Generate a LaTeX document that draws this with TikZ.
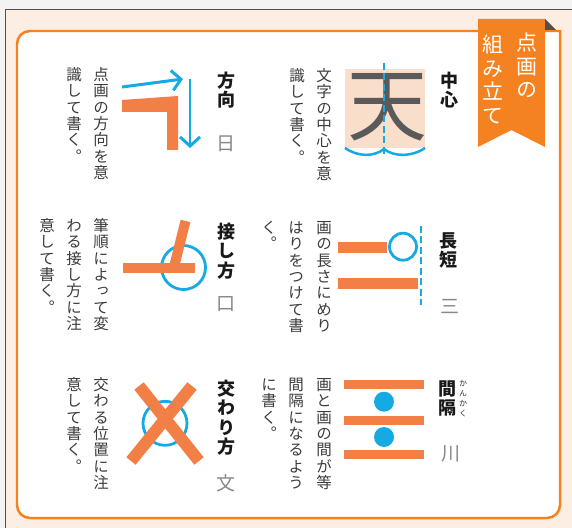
\documentclass[tikz,border=0pt]{standalone}
\usepackage{fontspec}
\usetikzlibrary{arrows.meta}
\newfontfamily\jp[RawFeature=+vert]{Noto Sans CJK JP}
\newfontfamily\jph{Noto Sans CJK JP}
\definecolor{bgbeige}{RGB}{252,238,226}
\definecolor{outgray}{RGB}{243,243,243}
\definecolor{frameor}{RGB}{245,130,32}
\definecolor{baror}{RGB}{242,128,70}
\definecolor{sky}{RGB}{22,170,226}
\definecolor{peach}{RGB}{250,222,204}
\definecolor{txt}{RGB}{60,60,60}
\definecolor{samplec}{RGB}{135,135,135}
\definecolor{fold}{RGB}{80,80,80}
\definecolor{kanji}{RGB}{90,90,90}
\ExplSyntaxOn
\dim_new:N \l__vt_pitch_dim
\NewDocumentCommand \vt { m m }
  {
    \dim_set:Nn \l__vt_pitch_dim {#1}
    \vbox:n
      {
        \offinterlineskip
        \tl_map_inline:nn {#2}
          {
            \hbox_to_wd:nn {1em}
              {
                \hss
                \vbox_to_ht:nn {\l__vt_pitch_dim}
                  { \vss \hbox:n { \vrule height .88em depth .12em width 0pt \relax ##1 } \vss }
                \hss
              }
          }
      }
  }
\ExplSyntaxOff
\newcommand\dtx[1]{\vt{16.4bp}{#1}}
\newcommand\ttl[1]{\vt{19.5bp}{#1}}
\newcommand\stx[1]{\vt{20bp}{#1}}
\newcommand\rtx[1]{\vt{23.5bp}{#1}}
\newcommand\rux[1]{\vt{10bp}{#1}}
\begin{document}
\begin{tikzpicture}[x=1bp,y=-1bp,
  desc/.style={anchor=north, inner sep=0pt, text=txt, font=\jp\fontsize{15.5bp}{16bp}\selectfont},
  titlet/.style={anchor=north, inner sep=0pt, text=black!90, font=\jp\bfseries\fontsize{18bp}{19bp}\selectfont},
  samplet/.style={anchor=center, inner sep=0pt, text=samplec, font=\jp\fontsize{19bp}{20bp}\selectfont},
  rubyt/.style={anchor=north, inner sep=0pt, text=black!80, font=\jp\fontsize{8bp}{9bp}\selectfont},
  ribbont/.style={anchor=north, inner sep=0pt, text=white, font=\jp\fontsize{21bp}{22bp}\selectfont},
  bar/.style={fill=baror},
  ring/.style={draw=sky, line width=2.8},
  guide/.style={draw=sky, line width=2.5, dash pattern=on 7 off 3.5},
  arr/.style={draw=sky, line width=3, -{Straight Barb[length=9bp,width=20bp]}}
]
\useasboundingbox (0,0) rectangle (572,528);
\fill[outgray] (0,0) rectangle (572,528);
\fill[bgbeige] (5,9.5) rectangle (572,528);
\draw[fold, line width=0.8] (5,528) -- (5,9.5) -- (572,9.5);
% frame
\draw[frameor, line width=2.5, fill=white, rounded corners=13, line cap=rect]
  (560,31) -- (17,31) -- (17,518) -- (560,518) -- (560,31);
% ribbon
\fill[frameor] (478,19) -- (545,19) -- (545,147) -- (511.5,130) -- (478,147) -- cycle;
\fill[fold] (545,19) -- (556,30) -- (545,30) -- cycle;
\node[ribbont] (rb1) at (527,31) {\rtx{点画の}};
\node[ribbont] (rb2) at (493,33) {\rtx{組み立て}};

% ---- 中心
\fill[peach] (345,69) rectangle (425,148);
\node[inner sep=0pt, text=kanji, font=\jph\fontsize{80bp}{80bp}\selectfont] (ten) at (387,107) {天};
\draw[guide] (384,63) -- (384,155);
\draw[sky, line width=2.5] (345,148) .. controls (358,157) and (374,157) .. (384,149)
  .. controls (394,157) and (412,157) .. (425,148);
\node[titlet] (t1) at (449,70.5) {\ttl{中心}};
\node[desc] (d1a) at (324,67) {\dtx{文字の中心を意}};
\node[desc] (d1b) at (297,67) {\dtx{識して書く。}};

% ---- 方向
\fill[baror] (122,100) -- (178,96) -- (178,150) -- (167,150) -- (167,112) -- (122,112) -- cycle;
\coordinate (a1s) at (122,87);
\coordinate (a1e) at (183,79);
\coordinate (a2s) at (190,79);
\coordinate (a2e) at (190,148);
\draw[arr] (a1s) -- (a1e);
\draw[arr] (a2s) -- (a2e);
\node[titlet] (t2) at (226,70.5) {\ttl{方向}};
\node[samplet] (s2) at (226,143.5) {\stx{日}};
\node[desc] (d2a) at (101,66) {\dtx{点画の方向を意}};
\node[desc] (d2b) at (74,66) {\dtx{識して書く。}};

% ---- 長短
\fill[bar] (338,242) rectangle (387,253);
\fill[bar] (338,278) rectangle (418,289);
\draw[ring] (403,246.7) circle[radius=13.5];
\draw[guide] (421,226) -- (421,305);
\node[titlet] (t3) at (448,230.5) {\ttl{長短}};
\node[samplet] (s3) at (450,306) {\stx{三}};
\node[desc] (d3a) at (324,219) {\dtx{画の長さにめり}};
\node[desc] (d3b) at (296,219) {\dtx{はりをつけて書}};
\node[desc] (d3c) at (269,219) {\dtx{く。}};

% ---- 接し方
\draw[ring] (183.5,267.5) circle[radius=22];
\fill[bar] (123,263) rectangle (195,273);
\draw[baror, line width=10] (185.5,221) -- (174.5,265);
\node[titlet] (t4) at (226,221.5) {\ttl{接し方}};
\node[samplet] (s4) at (226,303.5) {\stx{口}};
\node[desc] (d4a) at (101,217) {\dtx{筆順によって変}};
\node[desc] (d4b) at (74,217) {\dtx{わる接し方に注}};
\node[desc] (d4c) at (47,217) {\dtx{意して書く。}};

% ---- 間隔
\fill[bar] (344,380) rectangle (424,389);
\fill[bar] (344,416) rectangle (424,425);
\fill[bar] (344,450) rectangle (424,459);
\fill[sky] (384,401.7) circle[radius=10];
\fill[sky] (384,437) circle[radius=10];
\node[titlet] (t5) at (447,378.5) {\ttl{間隔}};
\node[rubyt] (r5) at (463,378.6) {\rux{かんかく}};
\node[samplet] (s5) at (451,453) {\stx{川}};
\node[desc] (d5a) at (324,376) {\dtx{画と画の間が等}};
\node[desc] (d5b) at (296,376) {\dtx{間隔になるよう}};
\node[desc] (d5c) at (269,376) {\dtx{に書く。}};

% ---- 交わり方
\draw[ring] (165,423.3) circle[radius=22];
\draw[baror, line width=12] (139,386) -- (199,461);
\draw[baror, line width=12] (192,386) -- (131,461);
\node[titlet] (t6) at (226,378.5) {\ttl{交わり方}};
\node[samplet] (s6) at (226,483) {\stx{文}};
\node[desc] (d6a) at (101,376) {\dtx{交わる位置に注}};
\node[desc] (d6b) at (74,376) {\dtx{意して書く。}};
\end{tikzpicture}
\end{document}
